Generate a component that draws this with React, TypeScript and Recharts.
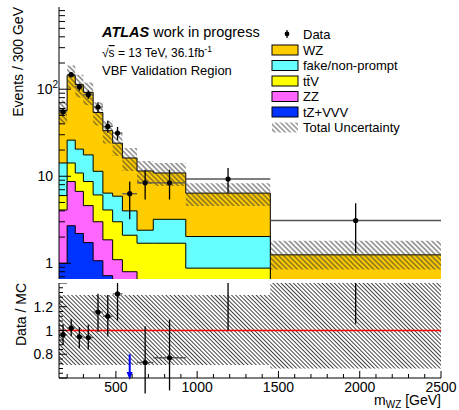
import React from "react";
import { ComposedChart, Area, Scatter, ErrorBar, XAxis, YAxis, ReferenceLine, Legend } from "recharts";

// binning in m_WZ [GeV]
const binEdges = [150, 200, 250, 300, 360, 420, 480, 540, 630, 730, 930, 1450, 2500];

// MC per bin (Events / 300 GeV)
const wz = [42.8, 118, 92.5, 74.4, 42.6, 27.0, 18.1, 12.2, 9.1, 7.7, 4.37, 0.85];
const fake = [8.2, 11.8, 9.6, 8.9, 5.3, 2.3, 2.9, 1.9, 0.7, 1.5, 1.15, 0.2];
const ttv = [1.9, 5.5, 4.2, 4.1, 3.1, 2.24, 1.9, 1.3, 1.2, 1.3, 0.58, 0.15];
const zz = [3.1, 6.0, 4.5, 2.87, 1.93, 1.14, 0.8, 0.65, 0.4, 0.32, 0.25, 0.03];
const tzvvv = [1.0, 2.7, 2.2, 1.73, 1.07, 0.72, 0.3, 0.15, 0.1, 0.08, 0.05, 0.02];

// relative total uncertainty
const uncUp = [0.3, 0.3, 0.3, 0.3, 0.3, 0.3, 0.3, 0.3, 0.3, 0.3, 0.3, 0.45];
const uncDown = [0.29, 0.29, 0.29, 0.29, 0.29, 0.29, 0.29, 0.29, 0.29, 0.29, 0.29, 0.32];

// data
const dataCounts = [55, 147, 107, 86.5, 62.4, 37.4, 31.4, 6.3, 8.4, 8.4, 9.3, 3.1];
const dataErrLow = [5, 10, 11, 9.5, 9, 5.7, 5.4, 3.1, 3.0, 3.0, 2.9, 1.78];
const dataErrHigh = [5, 11, 9, 10, 8.3, 6, 5.4, 2.4, 3.5, 3.5, 3.1, 1.8];

const xMajor = [500, 1000, 1500, 2000, 2500];
const yMajor = [1, 10, 100];
const ratioMajor = [0.6, 0.8, 1, 1.2, 1.4];
const ratioLabels = [0.8, 1, 1.2];

const X_DOMAIN = [150, 2500];
const Y_DOMAIN = [0.66, 880];
const R_DOMAIN = [0.6, 1.4];

const FONT = "'Liberation Sans', Arial, Helvetica, sans-serif";
const colWZ = "#ffcc00";
const colFake = "#66ffff";
const colTtv = "#ffff00";
const colZZ = "#ff66ff";
const colTz = "#0033ff";

const nBins = binEdges.length - 1;
const cumTz = tzvvv.slice();
const cumZz = cumTz.map((v, i) => v + zz[i]);
const cumTtv = cumZz.map((v, i) => v + ttv[i]);
const cumFake = cumTtv.map((v, i) => v + fake[i]);
const cumTot = cumFake.map((v, i) => v + wz[i]);

const steps = binEdges.map((x, i) => {
  const b = Math.min(i, nBins - 1);
  return {
    x,
    tot: cumTot[b],
    fake: cumFake[b],
    ttv: cumTtv[b],
    zz: cumZz[b],
    tz: cumTz[b],
    band: [cumTot[b] * (1 - uncDown[b]), cumTot[b] * (1 + uncUp[b])],
    rband: [1 - uncDown[b], 1 + uncUp[b]],
  };
});

const points = dataCounts.map((y, i) => {
  const lo = binEdges[i];
  const hi = binEdges[i + 1];
  return { x: (lo + hi) / 2, y, xerr: (hi - lo) / 2, yerr: [dataErrLow[i], dataErrHigh[i]] };
});

const ratioAll = points.map((p, i) => ({
  x: p.x,
  y: dataCounts[i] / cumTot[i],
  xerr: p.xerr,
  yerr: [dataErrLow[i] / cumTot[i], dataErrHigh[i] / cumTot[i]],
}));
// points below the ratio range are shown as arrows
const ratioPoints = ratioAll.filter((p) => p.y >= R_DOMAIN[0]);
const arrows = ratioAll.filter((p) => p.y < R_DOMAIN[0]);

// minor ticks
const xMinor: number[] = [];
for (let v = 200; v < 2500; v += 100) if (v % 500 !== 0) xMinor.push(v);
const yMinor: number[] = [];
for (const d of [0.1, 1, 10, 100]) {
  for (let k = 2; k <= 9; k++) {
    const v = +(k * d).toFixed(3);
    if (v >= Y_DOMAIN[0] && v <= Y_DOMAIN[1]) yMinor.push(v);
  }
}
const ratioMinor: number[] = [];
for (let k = 1; k < 20; k++) {
  const v = +(0.6 + 0.04 * k).toFixed(2);
  if (!ratioMajor.some((m) => Math.abs(m - v) < 1e-6)) ratioMinor.push(v);
}
const xTicks = [...xMajor, ...xMinor].sort((a, b) => a - b);
const yTicks = [...yMajor, ...yMinor].sort((a, b) => a - b);
const rTicks = [...ratioMajor, ...ratioMinor].sort((a, b) => a - b);

const isIn = (arr: number[], v: number) => arr.some((m) => Math.abs(m - v) < 1e-6);

const textStyle = { fontFamily: FONT, fontSize: 14, fill: "#000" };

const yTick = (side: "left" | "right", majors: number[], majorLen: number, minorLen: number, label?: (v: number, x: number, y: number) => any) =>
  (props: any) => {
    const { x, y, payload } = props;
    const major = isIn(majors, payload.value);
    const dir = side === "left" ? 1 : -1;
    return (
      <g>
        <line x1={x} x2={x + dir * (major ? majorLen : minorLen)} y1={y} y2={y} stroke="#000" strokeWidth={1} />
        {label && major ? label(payload.value, x, y) : null}
      </g>
    );
  };

const xTick = (side: "top" | "bottom", majorLen: number, minorLen: number, labels: boolean) => (props: any) => {
  const { x, y, payload } = props;
  const major = isIn(xMajor, payload.value);
  const dir = side === "bottom" ? -1 : 1;
  return (
    <g>
      <line x1={x} x2={x} y1={y} y2={y + dir * (major ? majorLen : minorLen)} stroke="#000" strokeWidth={1} />
      {labels && major ? (
        <text x={x} y={y + 14} textAnchor="middle" style={textStyle}>
          {payload.value}
        </text>
      ) : null}
    </g>
  );
};

const logLabel = (v: number, x: number, y: number) =>
  v >= 100 ? (
    <text x={x - 1} y={y + 5} textAnchor="end" style={textStyle}>
      10<tspan dy={-6} fontSize={10}>2</tspan>
    </text>
  ) : (
    <text x={x - 6} y={y + 5} textAnchor="end" style={textStyle}>
      {v}
    </text>
  );

const ratioLabel = (v: number, x: number, y: number) =>
  isIn(ratioLabels, v) ? (
    <text x={x - 6} y={y + 5} textAnchor="end" style={textStyle}>
      {v}
    </text>
  ) : null;

const Dot = (p: any) => <circle cx={p.cx} cy={p.cy} r={2.6} fill="#000" />;

const Arrow = (p: any) => (
  <g>
    <line x1={p.x1} y1={p.y1} x2={p.x2} y2={p.y2 - 4} stroke="#0000ff" strokeWidth={2} />
    <polygon points={`${p.x2 - 3},${p.y2 - 6} ${p.x2 + 3},${p.y2 - 6} ${p.x2},${p.y2 + 2}`} fill="#0000ff" />
  </g>
);

const legendRows = [
  { label: "WZ", color: colWZ },
  { label: "fake/non-prompt", color: colFake },
  { label: "tt\u0304V", color: colTtv },
  { label: "ZZ", color: colZZ },
  { label: "tZ+VVV", color: colTz },
];

function AtlasLegend() {
  const lt = { fontFamily: FONT, fontSize: 13, fill: "#000" };
  return (
    <svg width={190} height={112} style={{ display: "block" }}>
      <defs>
        <pattern id="hatchLeg" width={3.6} height={3.6} patternUnits="userSpaceOnUse" patternTransform="rotate(-45)">
          <line x1={1.8} y1={0} x2={1.8} y2={3.6} stroke="#444" strokeWidth={0.9} />
        </pattern>
      </defs>
      <line x1={19} x2={19} y1={4} y2={12} stroke="#000" strokeWidth={1.2} />
      <circle cx={19} cy={8} r={2.4} fill="#000" />
      <text x={35} y={12.5} style={lt}>Data</text>
      {legendRows.map((r, i) => {
        const cy = 24 + i * 15.5;
        return (
          <g key={r.label}>
            <rect x={4} y={cy - 5} width={26} height={10} fill={r.color} stroke="#000" strokeWidth={1} />
            <text x={35} y={cy + 4.5} style={lt}>{r.label}</text>
          </g>
        );
      })}
      <rect x={4} y={96.5} width={26} height={10} fill="url(#hatchLeg)" />
      <text x={35} y={106} style={lt}>Total Uncertainty</text>
    </svg>
  );
}

export default function App() {
  return (
    <div style={{ position: "absolute", left: 0, top: 0, width: 459, height: 410, background: "#fff", overflow: "hidden" }}>
      <div style={{ position: "absolute", left: 0, top: 0 }}>
        <ComposedChart width={459} height={281} data={steps} margin={{ top: 7, right: 18, bottom: 2, left: 0 }}>
          <defs>
            <pattern id="hatchU" width={3.6} height={3.6} patternUnits="userSpaceOnUse" patternTransform="rotate(-45)">
              <line x1={1.8} y1={0} x2={1.8} y2={3.6} stroke="#333" strokeWidth={0.9} />
            </pattern>
          </defs>
          <XAxis dataKey="x" type="number" domain={X_DOMAIN} allowDataOverflow ticks={xTicks} interval={0} height={0}
            tickSize={0} tickMargin={0} tickLine={false} axisLine={{ stroke: "#000" }} tick={xTick("bottom", 7, 4, false)} />
          <XAxis xAxisId="top" orientation="top" dataKey="x" type="number" domain={X_DOMAIN} allowDataOverflow ticks={xTicks}
            interval={0} height={0} tickSize={0} tickMargin={0} tickLine={false} axisLine={{ stroke: "#000" }} tick={xTick("top", 7, 4, false)} />
          <YAxis type="number" scale="log" domain={Y_DOMAIN} allowDataOverflow ticks={yTicks} interval={0} width={59}
            tickSize={0} tickMargin={0} tickLine={false} axisLine={{ stroke: "#000" }} tick={yTick("left", yMajor, 12, 6, logLabel)} />
          <YAxis yAxisId="right" orientation="right" type="number" scale="log" domain={Y_DOMAIN} allowDataOverflow ticks={yTicks}
            interval={0} width={0} tickSize={0} tickMargin={0} tickLine={false} axisLine={{ stroke: "#000" }} tick={yTick("right", yMajor, 12, 6)} />
          <Area dataKey="tot" type="stepAfter" fill={colWZ} fillOpacity={1} stroke="#000" strokeWidth={1} isAnimationActive={false} />
          <Area dataKey="fake" type="stepAfter" fill={colFake} fillOpacity={1} stroke="#000" strokeWidth={1} isAnimationActive={false} />
          <Area dataKey="ttv" type="stepAfter" fill={colTtv} fillOpacity={1} stroke="#000" strokeWidth={1} isAnimationActive={false} />
          <Area dataKey="zz" type="stepAfter" fill={colZZ} fillOpacity={1} stroke="#000" strokeWidth={1} isAnimationActive={false} />
          <Area dataKey="tz" type="stepAfter" fill={colTz} fillOpacity={1} stroke="#000" strokeWidth={1} isAnimationActive={false} />
          <Area dataKey="band" type="stepAfter" fill="url(#hatchU)" fillOpacity={1} stroke="none" isAnimationActive={false} />
          <Scatter data={points} dataKey="y" shape={Dot} isAnimationActive={false}>
            <ErrorBar dataKey="xerr" direction="x" width={0} stroke="#555" strokeWidth={1.3} isAnimationActive={false} />
            <ErrorBar dataKey="yerr" direction="y" width={0} stroke="#000" strokeWidth={1.3} isAnimationActive={false} />
          </Scatter>
          <Legend layout="vertical" align="center" verticalAlign="middle" content={() => <AtlasLegend />}
            wrapperStyle={{ left: 268, top: 26, width: 190, height: 112 }} />
        </ComposedChart>
      </div>
      <div style={{ position: "absolute", left: 0, top: 283 }}>
        <ComposedChart width={459} height={127} data={steps} margin={{ top: 0, right: 18, bottom: 0, left: 0 }}>
          <defs>
            <pattern id="hatchR" width={2.9} height={2.9} patternUnits="userSpaceOnUse" patternTransform="rotate(-45)">
              <line x1={1.45} y1={0} x2={1.45} y2={2.9} stroke="#333" strokeWidth={0.9} />
            </pattern>
          </defs>
          <XAxis dataKey="x" type="number" domain={X_DOMAIN} allowDataOverflow ticks={xTicks} interval={0} height={32}
            tickSize={0} tickMargin={0} tickLine={false} axisLine={{ stroke: "#000" }} tick={xTick("bottom", 7, 4, true)} />
          <XAxis xAxisId="top" orientation="top" dataKey="x" type="number" domain={X_DOMAIN} allowDataOverflow ticks={xTicks}
            interval={0} height={0} tickSize={0} tickMargin={0} tickLine={false} axisLine={{ stroke: "#000" }} tick={xTick("top", 7, 4, false)} />
          <YAxis type="number" domain={R_DOMAIN} allowDataOverflow ticks={rTicks} interval={0} width={59}
            tickSize={0} tickMargin={0} tickLine={false} axisLine={{ stroke: "#000" }} tick={yTick("left", ratioMajor, 8, 4, ratioLabel)} />
          <YAxis yAxisId="right" orientation="right" type="number" domain={R_DOMAIN} allowDataOverflow ticks={rTicks}
            interval={0} width={0} tickSize={0} tickMargin={0} tickLine={false} axisLine={{ stroke: "#000" }} tick={yTick("right", ratioMajor, 8, 4)} />
          <Area dataKey="rband" type="stepAfter" fill="url(#hatchR)" fillOpacity={1} stroke="none" isAnimationActive={false} />
          <ReferenceLine y={1} stroke="#ff0000" strokeWidth={1.3} />
          {arrows.map((a) => (
            <ReferenceLine key={a.x} segment={[{ x: a.x, y: 0.8 }, { x: a.x, y: R_DOMAIN[0] }]} ifOverflow="visible" shape={Arrow} />
          ))}
          <Scatter data={ratioPoints} dataKey="y" shape={Dot} isAnimationActive={false}>
            <ErrorBar dataKey="xerr" direction="x" width={0} stroke="#555" strokeWidth={1.3} isAnimationActive={false} />
            <ErrorBar dataKey="yerr" direction="y" width={0} stroke="#000" strokeWidth={1.3} isAnimationActive={false} />
          </Scatter>
        </ComposedChart>
      </div>
      <svg width={459} height={410} style={{ position: "absolute", left: 0, top: 0, pointerEvents: "none" }}>
        <text x={102} y={37} style={{ fontFamily: FONT, fontSize: 14.5, fill: "#000" }}>
          <tspan fontWeight="bold" fontStyle="italic">ATLAS</tspan>
          <tspan> work in progress</tspan>
        </text>
        <text x={102} y={57} style={{ fontFamily: FONT, fontSize: 12, fill: "#000" }}>
          √<tspan textDecoration="overline">s</tspan> = 13 TeV, 36.1fb<tspan dy={-5} fontSize={8.5}>-1</tspan>
        </text>
        <text x={102} y={75} style={{ fontFamily: FONT, fontSize: 13, fill: "#000" }}>VBF Validation Region</text>
        <text x={23} y={7} transform="rotate(-90 23 7)" textAnchor="end" style={textStyle}>Events / 300 GeV</text>
        <text x={26} y={283} transform="rotate(-90 26 283)" textAnchor="end" style={textStyle}>Data / MC</text>
        <text x={441} y={405} textAnchor="end" style={textStyle}>
          m<tspan dy={3} fontSize={10}>WZ</tspan>
          <tspan dy={-3}> [GeV]</tspan>
        </text>
      </svg>
    </div>
  );
}
